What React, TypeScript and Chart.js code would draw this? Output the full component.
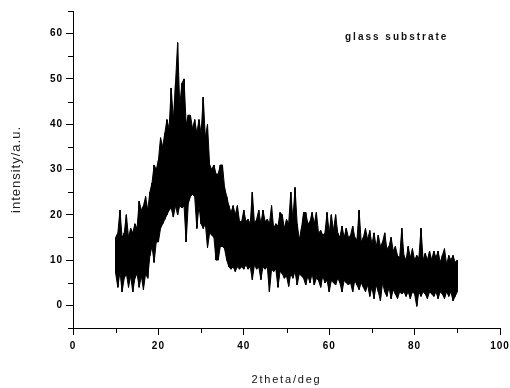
import { useEffect, useRef } from 'react';
import { Chart, LineController, LineElement, PointElement, LinearScale, Filler } from 'chart.js';

// ---- data ----
const twoTheta = [
  10, 10.5, 11, 11.5, 12, 12.5, 13, 13.5, 14, 14.5,
  15, 15.5, 16, 16.5, 17, 17.5, 18, 18.5, 19, 19.5,
  20, 20.5, 21, 21.5, 22, 22.5, 23, 23.5, 24, 24.5,
  25, 25.5, 26, 26.5, 27, 27.5, 28, 28.5, 29, 29.5,
  30, 30.5, 31, 31.5, 32, 32.5, 33, 33.5, 34, 34.5,
  35, 35.5, 36, 36.5, 37, 37.5, 38, 38.5, 39, 39.5,
  40, 40.5, 41, 41.5, 42, 42.5, 43, 43.5, 44, 44.5,
  45, 45.5, 46, 46.5, 47, 47.5, 48, 48.5, 49, 49.5,
  50, 50.5, 51, 51.5, 52, 52.5, 53, 53.5, 54, 54.5,
  55, 55.5, 56, 56.5, 57, 57.5, 58, 58.5, 59, 59.5,
  60, 60.5, 61, 61.5, 62, 62.5, 63, 63.5, 64, 64.5,
  65, 65.5, 66, 66.5, 67, 67.5, 68, 68.5, 69, 69.5,
  70, 70.5, 71, 71.5, 72, 72.5, 73, 73.5, 74, 74.5,
  75, 75.5, 76, 76.5, 77, 77.5, 78, 78.5, 79, 79.5,
  80, 80.5, 81, 81.5, 82, 82.5, 83, 83.5, 84, 84.5,
  85, 85.5, 86, 86.5, 87, 87.5, 88, 88.5, 89, 89.5,
  90,
];

// upper noise envelope of the intensity trace
const upperIntensity = [
  15, 16, 21, 15, 16, 20, 15, 17, 16, 18,
  17, 23, 21, 22, 24, 21, 25, 27, 31, 30,
  32, 37, 35, 38, 41, 39, 48, 41, 49, 58,
  44, 49, 50, 40, 42, 42, 39, 41, 38, 41,
  38, 46, 37, 40, 31, 30, 31, 29, 29, 31,
  31, 26, 24, 22, 20.5, 22, 20, 22, 18.5, 18.5,
  21, 18.5, 19, 18, 25, 18, 19, 21, 18, 21,
  18.5, 19, 18, 22, 17, 18, 17.5, 20.5, 20, 17,
  19, 18, 25, 19, 26, 18, 14.5, 17, 20.5, 20.5,
  18, 18.5, 20.5, 18, 20.5, 16, 16.5, 15.5, 16, 20.5,
  16, 20, 16.5, 20, 16, 15, 17.5, 15, 17, 15,
  15.5, 17.5, 15, 14.5, 21, 14, 15, 17, 14.5, 16.5,
  13.5, 16, 13, 15.5, 13, 14, 16, 12.5, 13, 15,
  12, 13, 11, 10.5, 17, 11, 10, 13, 10.5, 12.5,
  10, 11, 10.5, 17, 10, 11.5, 10, 12, 10, 12,
  10.5, 12, 9.5, 11, 12.5, 9, 11, 10, 11, 9.5,
  10,
];

// lower noise envelope of the intensity trace
const lowerIntensity = [
  7, 4, 7.5, 3, 6, 7, 4, 6.5, 3, 6,
  7, 4, 6.5, 3.5, 7, 6, 11, 13, 9.5, 14,
  14, 17, 18, 19, 20, 21, 21.5, 19.5, 22, 20,
  22, 21.5, 22, 14, 22.5, 24, 24.5, 24, 17, 22,
  18, 17, 18, 12.7, 16, 15.5, 15, 10, 10, 13,
  13, 12.5, 10, 8.5, 8, 8.5, 7.5, 8.5, 8, 8.5,
  8, 9, 8, 8.5, 5.7, 9, 8, 8.5, 5.7, 8.5,
  8, 8.5, 3, 8, 7.5, 8, 4, 7.5, 7, 6,
  6.5, 4.2, 7, 6, 7.5, 4.5, 7, 6.5, 6, 4.5,
  6.5, 5, 7, 4.5, 6, 5.5, 4, 6.5, 5, 5.5,
  3, 5.5, 5, 4.5, 6, 5, 3, 5.5, 5, 4.5,
  5, 3, 5.5, 4.5, 3.5, 5, 4, 3, 4.5, 2,
  4, 1.5, 4.5, 3, 1, 5, 3, 2, 4, 1.5,
  3.5, 2.5, 1.5, 3, 2.5, 3, 2, 3, 1.5, 3,
  2.5, -0.2, 3, 2, 3, 2.5, 1.5, 3, 2.5, 2,
  3, 1.5, 3, 2.5, 1.5, 3, 2, 3, 1, 2,
  3,
];

const X_MIN = 0;
const X_MAX = 100;
const X_STEP = 10;
const X_LABEL_EVERY = 20;
const Y_MIN = -5;
const Y_MAX = 65;
const Y_STEP = 5;
const Y_LABEL_EVERY = 10;

const X_TITLE = '2theta/deg';
const Y_TITLE = 'intensity/a.u.';
const NOTE = 'glass substrate';

// ---- styling ----
const FAMILY = '"Liberation Sans", Arial, sans-serif';
const SPACING: Record<string, { title: string; ticks: string }> = {
  x: { title: '1.8px', ticks: '1px' },
  y: { title: '1px', ticks: '1px' },
};

class SpacedLinearScale extends LinearScale {
  static id = 'spacedLinear';
  static defaults = LinearScale.defaults;
  drawTitle() {
    const ctx: any = this.ctx;
    ctx.save();
    ctx.letterSpacing = (SPACING[this.id] && SPACING[this.id].title) || '0px';
    super.drawTitle();
    ctx.restore();
  }
  drawLabels(area: any) {
    const ctx: any = this.ctx;
    ctx.save();
    ctx.letterSpacing = (SPACING[this.id] && SPACING[this.id].ticks) || '0px';
    super.drawLabels(area);
    ctx.restore();
  }
}

Chart.register(LineController, LineElement, PointElement, LinearScale, Filler, SpacedLinearScale);

const MINOR_LEN = 5;

const minorTicksPlugin = {
  id: 'minorTicks',
  afterDraw(chart: any) {
    const { ctx } = chart;
    const xs = chart.scales.x;
    const ys = chart.scales.y;
    ctx.save();
    ctx.strokeStyle = '#000';
    ctx.lineWidth = 1;
    ctx.beginPath();
    xs.ticks.forEach((t: any) => {
      if (t.value % X_LABEL_EVERY !== 0) {
        const p = Math.round(xs.getPixelForValue(t.value)) + 0.5;
        ctx.moveTo(p, xs.top);
        ctx.lineTo(p, xs.top + MINOR_LEN);
      }
    });
    ys.ticks.forEach((t: any) => {
      if (t.value % Y_LABEL_EVERY !== 0) {
        const p = Math.round(ys.getPixelForValue(t.value)) + 0.5;
        ctx.moveTo(ys.right - MINOR_LEN, p);
        ctx.lineTo(ys.right, p);
      }
    });
    ctx.stroke();
    ctx.restore();
  },
};

const notePlugin = {
  id: 'note',
  afterDraw(chart: any) {
    const { ctx } = chart;
    ctx.save();
    ctx.font = `bold 10px ${FAMILY}`;
    (ctx as any).letterSpacing = '2px';
    ctx.fillStyle = '#111';
    ctx.textAlign = 'left';
    ctx.textBaseline = 'alphabetic';
    ctx.fillText(NOTE, 345, 39.5);
    ctx.restore();
  },
};

export default function App() {
  const ref = useRef<HTMLCanvasElement>(null);

  useEffect(() => {
    document.body.style.margin = '0';
    const upperPts = twoTheta.map((x, i) => ({ x, y: upperIntensity[i] }));
    const lowerPts = twoTheta.map((x, i) => ({ x, y: lowerIntensity[i] }));
    const zigzag = twoTheta.flatMap((x, i) => [
      { x, y: upperIntensity[i] },
      { x, y: lowerIntensity[i] },
    ]);

    const chart = new Chart(ref.current as HTMLCanvasElement, {
      type: 'line',
      data: {
        datasets: [
          {
            label: 'upper',
            data: upperPts,
            borderColor: '#000',
            backgroundColor: '#000',
            borderWidth: 1,
            pointRadius: 0,
            tension: 0,
            fill: '+1',
          },
          {
            label: 'lower',
            data: lowerPts,
            borderColor: '#000',
            borderWidth: 1,
            pointRadius: 0,
            tension: 0,
            fill: false,
          },
          {
            label: 'trace',
            data: zigzag,
            borderColor: '#000',
            borderWidth: 1,
            pointRadius: 0,
            tension: 0,
            fill: false,
          },
        ],
      },
      options: {
        animation: false,
        responsive: false,
        devicePixelRatio: 1,
        events: [],
        layout: { padding: { left: 0, top: 11, right: 10, bottom: 0 } },
        plugins: {
          legend: { display: false },
          tooltip: { enabled: false },
          filler: { propagate: false },
        },
        scales: {
          x: {
            type: 'spacedLinear' as any,
            min: X_MIN,
            max: X_MAX,
            afterFit: (s: any) => {
              s.height = 60;
              s.paddingLeft = 0;
              s.paddingRight = 0;
              s.paddingTop = 0;
              s.paddingBottom = 0;
            },
            border: { display: true, color: '#000', width: 1 },
            grid: {
              drawOnChartArea: false,
              drawTicks: true,
              tickLength: 7,
              tickWidth: 1,
              tickColor: (c: any) =>
                c.tick && c.tick.value % X_LABEL_EVERY === 0 ? '#000' : 'rgba(0,0,0,0)',
            },
            ticks: {
              stepSize: X_STEP,
              autoSkip: false,
              maxRotation: 0,
              padding: 5,
              color: '#000',
              font: { family: FAMILY, size: 10, weight: 'bold' },
              callback: (v: any) => (Number(v) % X_LABEL_EVERY === 0 ? String(v) : ''),
            },
            title: {
              display: true,
              text: X_TITLE,
              color: '#111',
              font: { family: FAMILY, size: 11 },
              padding: { top: 0, bottom: 1 },
            },
          } as any,
          y: {
            type: 'spacedLinear' as any,
            min: Y_MIN,
            max: Y_MAX,
            afterFit: (s: any) => {
              s.width = 73;
              s.paddingLeft = 0;
              s.paddingRight = 0;
              s.paddingTop = 0;
              s.paddingBottom = 0;
            },
            border: { display: true, color: '#000', width: 1 },
            grid: {
              drawOnChartArea: false,
              drawTicks: true,
              tickLength: 7,
              tickWidth: 1,
              tickColor: (c: any) =>
                c.tick && c.tick.value % Y_LABEL_EVERY === 0 ? '#000' : 'rgba(0,0,0,0)',
            },
            ticks: {
              stepSize: Y_STEP,
              autoSkip: false,
              padding: 3,
              color: '#000',
              font: { family: FAMILY, size: 10, weight: 'bold' },
              callback: (v: any) => (Number(v) % Y_LABEL_EVERY === 0 ? String(v) : ''),
            },
            title: {
              display: true,
              text: Y_TITLE,
              color: '#222',
              font: { family: FAMILY, size: 13 },
              padding: { top: 9, bottom: 0 },
            },
          } as any,
        },
      },
      plugins: [minorTicksPlugin, notePlugin],
    });

    return () => {
      chart.destroy();
    };
  }, []);

  return (
    <div style={{ width: 510, height: 388 }}>
      <canvas ref={ref} width={510} height={388} style={{ display: 'block' }} />
    </div>
  );
}
